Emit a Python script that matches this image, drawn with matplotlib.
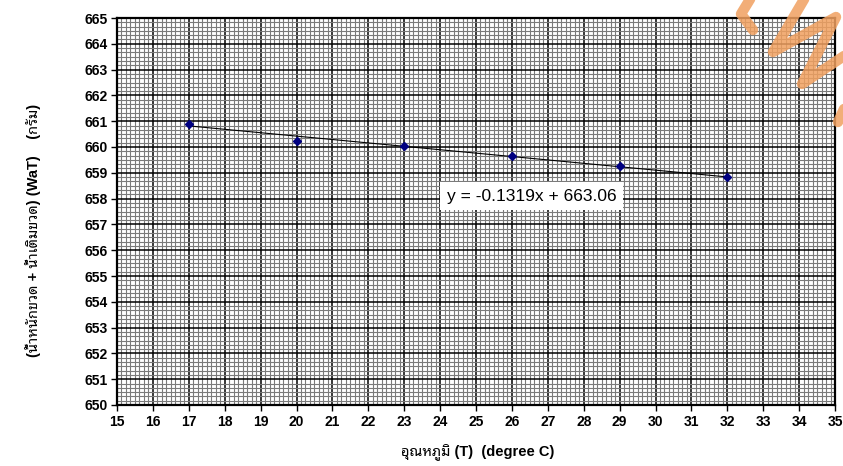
import numpy as np
import matplotlib
matplotlib.use("Agg")
import matplotlib.pyplot as plt
from matplotlib.ticker import MultipleLocator
from matplotlib.lines import Line2D

plt.rcParams['font.family'] = ['Liberation Sans', 'Noto Sans Thai Looped', 'DejaVu Sans']

# data
temps = [17, 20, 23, 26, 29, 32]
weights = [660.9, 660.25, 660.05, 659.65, 659.25, 658.85]
slope = -0.1319
intercept = 663.06
x_ticks = list(range(15, 36))
y_ticks = list(range(650, 666))

W, H = 843, 466
fig = plt.figure(figsize=(W / 100, H / 100), dpi=100)
ax = fig.add_axes([117 / W, 1 - 405 / H, 718 / W, 387 / H])

ax.set_xlim(15, 35)
ax.set_ylim(650, 665)
ax.set_xticks(x_ticks)
ax.set_yticks(y_ticks)
ax.xaxis.set_minor_locator(MultipleLocator(0.125))
ax.yaxis.set_minor_locator(MultipleLocator(1 / 6))
ax.grid(which='minor', color='#7a7a7a', linewidth=0.8)
ax.grid(which='major', color='black', linewidth=1.1)
ax.set_axisbelow(True)
ax.tick_params(which='minor', length=0)
ax.tick_params(which='major', length=4, width=1, direction='out', pad=3)
for lab in ax.get_xticklabels() + ax.get_yticklabels():
    lab.set_fontweight('bold')
    lab.set_fontsize(10)
for sp in ax.spines.values():
    sp.set_linewidth(1.6)

# trend line and points
xs = np.array([min(temps), max(temps)])
ax.plot(xs, slope * xs + intercept, color='black', linewidth=0.8, zorder=3)
ax.plot(temps, weights, linestyle='none', marker='D', markersize=4,
        color='#000080', zorder=4)

ax.text(26.55, 658.1, f"y = {slope}x + {intercept}", fontsize=12.5,
        ha='center', va='center', zorder=5,
        bbox=dict(facecolor='white', edgecolor='none', pad=5))

fig.text(33 / W, 1 - 230 / H, "(น้ำหนักขวด + น้ำเติมขวด) (WaT)    (กรัม)",
         rotation=90, ha='center', va='center', fontsize=10.5, fontweight='bold')
fig.text(478 / W, 1 - 453 / H, "อุณหภูมิ (T)  (degree C)",
         ha='center', va='center', fontsize=10.5, fontweight='bold')

# orange watermark strokes
strokes = [
    [(753, 30), (741, 14), (752, -4)],
    [(806, -4), (773, 52), (836, 17), (802, 84), (850, 52)],
    [(838, 122), (850, 96)],
]
for s in strokes:
    px = [p[0] / W for p in s]
    py = [1 - p[1] / H for p in s]
    fig.add_artist(Line2D(px, py, transform=fig.transFigure, color='#f0a060',
                          alpha=0.85, linewidth=7.5, solid_capstyle='round',
                          solid_joinstyle='round', zorder=10))

fig.savefig("out.png", dpi=100)
